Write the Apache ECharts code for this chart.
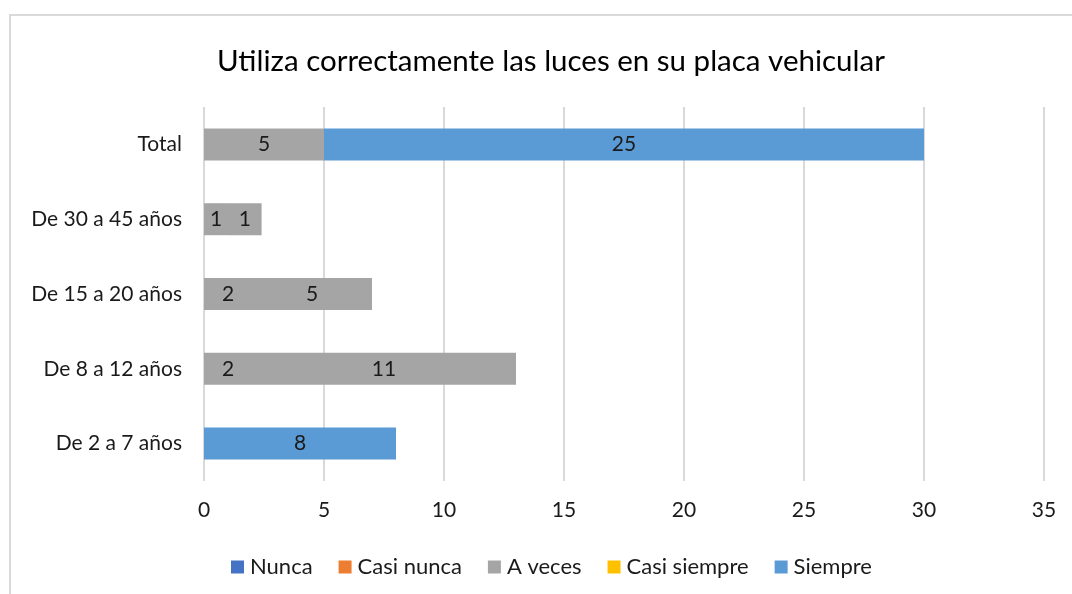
<!DOCTYPE html>
<html><head><meta charset="utf-8">
<script src="https://cdn.jsdelivr.net/npm/echarts@6/dist/echarts.min.js"></script>
<style>html,body{margin:0;padding:0;background:#fff}#c{width:1072px;height:594px}</style>
</head><body><div id="c"></div>
<script>
var categories = ['De 2 a 7 años', 'De 8 a 12 años', 'De 15 a 20 años', 'De 30 a 45 años', 'Total'];
var nunca = [null, null, null, null, null];
var casiNunca = [null, null, null, null, null];
var aVeces = [null, 2, 2, 1, 5];
var aVeces2 = [null, 11, 5, 1.4, null];
var casiSiempre = [null, null, null, null, null];
var siempre = [8, null, null, null, 25];
var xTicks = [0, 5, 10, 15, 20, 25, 30, 35];

var FONT = 'Lato, "Open Sans", sans-serif';
var chart = echarts.init(document.getElementById('c'));
function lbl() {
  return { show: true, position: 'inside', color: '#1a1a1a', fontSize: 21, fontFamily: FONT,
    formatter: function (p) { return p.value == null ? '' : String(Math.round(p.value)); } };
}
function s(name, data, color) {
  return { name: name, type: 'bar', stack: 'a', data: data, barWidth: 32,
    itemStyle: { color: color }, label: lbl() };
}
chart.setOption({
  animation: false,
  title: { text: 'Utiliza correctamente las luces en su placa vehicular', left: 212, top: 41,
    textStyle: { fontSize: 29.5, fontWeight: 'normal', color: '#000', fontFamily: FONT } },
  graphic: [{ type: 'rect', shape: { x: 10, y: 15, width: 1100, height: 700 },
    style: { fill: 'none', stroke: '#d9d9d9', lineWidth: 2 }, silent: true }],
  grid: { left: 204, right: 28, top: 107, bottom: 113 },
  legend: { bottom: 11, left: 226, itemWidth: 13, itemHeight: 13, itemGap: 26,
    data: ['Nunca', 'Casi nunca', 'A veces', 'Casi siempre', 'Siempre'],
    textStyle: { fontSize: 22, color: '#1a1a1a', fontFamily: FONT, padding: [0, 0, 0, 1] },
    icon: 'rect' },
  xAxis: { type: 'value', min: 0, max: 35, interval: 5,
    axisLine: { show: false }, axisTick: { show: false },
    splitLine: { lineStyle: { color: '#d9d9d9', width: 2 } },
    axisLabel: { fontSize: 21, color: '#1a1a1a', fontFamily: FONT, margin: 19,
      formatter: function (v) { return xTicks.indexOf(v) >= 0 ? String(v) : ''; } } },
  yAxis: { type: 'category', data: categories,
    axisLine: { show: false }, axisTick: { show: false },
    axisLabel: { fontSize: 21, color: '#1a1a1a', fontFamily: FONT, margin: 22 } },
  series: [
    s('Nunca', nunca, '#4472C4'),
    s('Casi nunca', casiNunca, '#ED7D31'),
    s('A veces', aVeces, '#A5A5A5'),
    s('A veces 2', aVeces2, '#A5A5A5'),
    s('Casi siempre', casiSiempre, '#FFC000'),
    s('Siempre', siempre, '#5B9BD5')
  ]
});
</script></body></html>
